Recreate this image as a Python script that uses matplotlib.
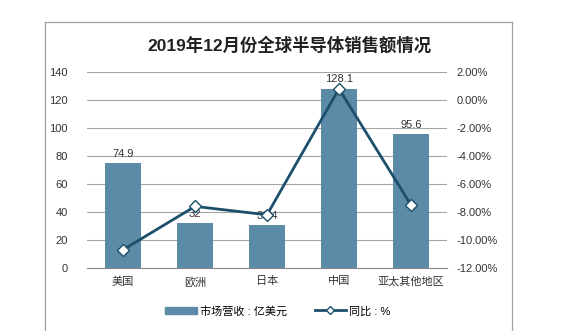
import matplotlib
matplotlib.use('Agg')
import matplotlib.pyplot as plt
from matplotlib.lines import Line2D
from matplotlib.patches import Patch
import numpy as np

# === data
regions = ['美国', '欧洲', '日本', '中国', '亚太其他地区']
revenue = [74.9, 32, 30.4, 128.1, 95.6]
yoy = [-10.7, -7.6, -8.2, 0.8, -7.5]
bar_labels = ['74.9', '32', '30.4', '128.1', '95.6']

bar_color = '#5b8ba6'
line_color = '#1b4f6b'
plt.rcParams['font.family'] = ['Liberation Sans', 'Noto Sans CJK SC', 'DejaVu Sans']

fig = plt.figure(figsize=(5.81, 3.31), dpi=100)

# --- outer frame
for xs, ys in [([45 / 581, 45 / 581], [0, 309 / 331]),
               ([45 / 581, 512 / 581], [309 / 331, 309 / 331]),
               ([512 / 581, 512 / 581], [0, 309 / 331])]:
    fig.add_artist(Line2D(xs, ys, transform=fig.transFigure, color='#a0a0a0', lw=0.9))

ax = fig.add_axes([87 / 581, 63 / 331, 360 / 581, 196 / 331])
x = np.arange(len(regions))
ax.bar(x, revenue, width=0.5, color=bar_color, zorder=2)
for xi, v, t in zip(x, revenue, bar_labels):
    ax.text(xi, v + 3, t, ha='center', va='bottom', fontsize=8, color='#333333', zorder=3)

ax.set_ylim(0, 140)
ax.set_yticks(range(0, 141, 20))
ax.set_xlim(-0.5, len(regions) - 0.5)
ax.set_xticks(x)
ax.set_xticklabels(regions, fontsize=7.5)
ax.grid(axis='y', color='#a5a5a5', lw=0.8, zorder=0)
for s in ['top', 'right', 'left']:
    ax.spines[s].set_visible(False)
ax.spines['bottom'].set_color('#888888')
ax.tick_params(axis='both', length=0, labelsize=8, colors='#333333')
ax.tick_params(axis='y', pad=14)
ax.tick_params(axis='x', pad=6)

# --- line on right axis
ax2 = ax.twinx()
ax2.plot(x, yoy, color=line_color, lw=2, marker='D', ms=6,
         markerfacecolor='white', markeredgecolor=line_color, markeredgewidth=1)
ax2.set_ylim(-12, 2)
ax2.set_yticks(np.arange(-12, 2.1, 2))
ax2.set_yticklabels(['%.2f%%' % v for v in np.arange(-12, 2.1, 2)])
for s in ['top', 'right', 'left', 'bottom']:
    ax2.spines[s].set_visible(False)
ax2.tick_params(axis='y', length=0, labelsize=8, colors='#333333', pad=7)

fig.text(289 / 581, 1 - 45 / 331, '2019年12月份全球半导体销售额情况',
         ha='center', va='center', fontsize=12.5, fontweight='bold', color='#222222')

handles = [Patch(color=bar_color),
           Line2D([], [], color=line_color, lw=2, marker='D', ms=4,
                  markerfacecolor='white', markeredgecolor=line_color)]
fig.legend(handles, ['市场营收 : 亿美元', '同比 : %'], loc='center',
           bbox_to_anchor=(278 / 581, 1 - 311 / 331), ncol=2, frameon=False,
           fontsize=8, handlelength=2.8, columnspacing=2.5, handletextpad=0.3)

fig.savefig('out.png', dpi=100)
